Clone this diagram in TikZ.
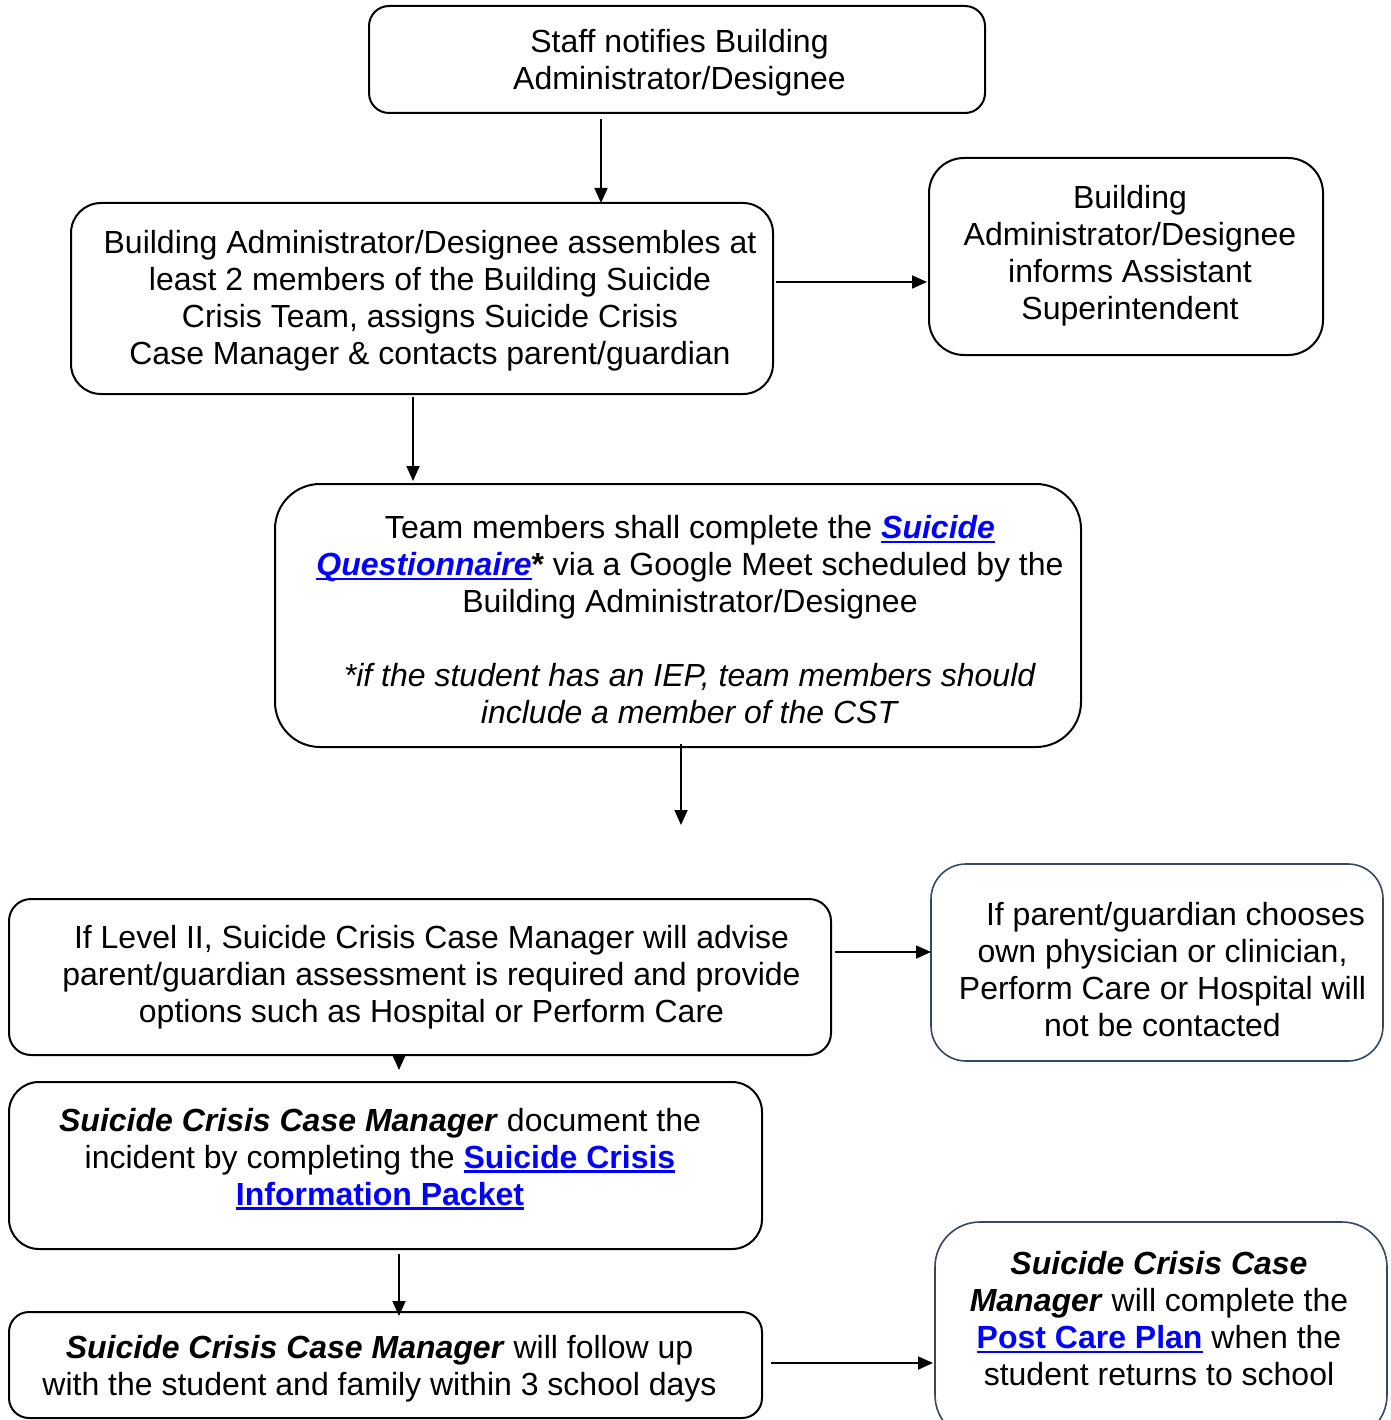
\documentclass[tikz,border=0pt]{standalone}
\usepackage{fontspec}
\setmainfont{Liberation Sans}
\usetikzlibrary{arrows.meta}
\definecolor{linkblue}{RGB}{0,0,255}
\definecolor{slateedge}{RGB}{52,72,98}
\newcommand\lnk[1]{{\color{linkblue}\setbox0=\hbox{\bfseries #1}\rlap{\rule[-5pt]{\wd0}{2.8pt}}\box0}}
\newcommand\bi[1]{\textbf{\textit{#1}}}
\tikzset{
  box/.style={draw=black, line width=2pt, inner sep=0pt, outer sep=0pt, fill=white},
  sbox/.style={draw=slateedge, line width=1.6pt, inner sep=0pt, outer sep=0pt, fill=white},
  txt/.style={align=center, inner sep=0pt, font=\fontsize{32}{37}\selectfont},
  arr/.style={line width=1.8pt, -{Triangle[length=15pt,width=13pt]}}
}
\begin{document}
\begin{tikzpicture}[x=1pt,y=-1pt]
\clip (0,0) rectangle (1390,1420);
\fill[white] (0,0) rectangle (1390,1420);
% boxes
\node[box, rounded corners=20pt, minimum width=616pt, minimum height=107pt] (staff) at (677,59.5) {};
\node[box, rounded corners=30pt, minimum width=702pt, minimum height=191pt] (assemble) at (422,298.5) {};
\node[box, rounded corners=35pt, minimum width=394pt, minimum height=197pt] (inform) at (1126,256.5) {};
\node[box, rounded corners=45pt, minimum width=806pt, minimum height=263pt] (team) at (678,615.5) {};
\node[box, rounded corners=22pt, minimum width=822pt, minimum height=156pt] (level) at (420,977) {};
\node[sbox, rounded corners=35pt, minimum width=452pt, minimum height=197pt] (parent) at (1157,962.5) {};
\node[box, rounded corners=30pt, minimum width=753pt, minimum height=167pt] (doc) at (385.5,1165.5) {};
\node[box, rounded corners=20pt, minimum width=753pt, minimum height=106pt] (follow) at (385.5,1365) {};
\node[sbox, rounded corners=45pt, minimum width=452pt, minimum height=218pt] (post) at (1161,1331) {};
% texts
\node[txt] (staffT) at (679.5,62.5) {Staff notifies Building\\Administrator/Designee};
\node[txt] (assembleT) at (430,300.5) {Building Administrator/Designee assembles at\\least 2 members of the Building Suicide\\Crisis Team, assigns Suicide Crisis\\Case Manager \& contacts parent/guardian};
\node[txt] (informT) at (1130,255.5) {Building\\Administrator/Designee\\informs Assistant\\Superintendent};
\node[txt] (teamT) at (690,619.5) {Team members shall complete the \lnk{\itshape Suicide}\\\lnk{\itshape Questionnaire}\textbf{*} via a Google Meet scheduled by the\\Building Administrator/Designee\\[37pt]\textit{*if the student has an IEP, team members should}\\\textit{include a member of the CST}};
\node[txt] (levelT) at (431.5,977) {If Level II, Suicide Crisis Case Manager will advise\\parent/guardian assessment is required and provide\\options such as Hospital or Perform Care};
\node[txt] (parentT) at (1162.5,970) {\hspace*{26pt}If parent/guardian chooses\\own physician or clinician,\\Perform Care or Hospital will\\not be contacted};
\node[txt] (docT) at (380,1159) {\bi{Suicide Crisis Case Manager} document the\\incident by completing the \lnk{Suicide Crisis}\\\lnk{Information Packet}};
\node[txt] (followT) at (379.5,1368.5) {\bi{Suicide Crisis Case Manager} will follow up\\with the student and family within 3 school days};
\node[txt] (postT) at (1159,1318.5) {\bi{Suicide Crisis Case}\\\bi{Manager} will complete the\\\lnk{Post Care Plan} when the\\student returns to school};
% helper coordinates for connector positions
\coordinate (c601) at (601,0);
\coordinate (c282) at (0,282);
\coordinate (c413) at (413,0);
\coordinate (c681) at (681,0);
\coordinate (teamend) at (681,825);
\coordinate (c952) at (0,952);
\coordinate (c399) at (399,0);
\coordinate (c1363) at (0,1363);
% connectors
\draw[arr, shorten <=6pt] (staff.south -| c601) -- (assemble.north -| c601);
\draw[arr, shorten <=3pt, shorten >=2pt] (assemble.east |- c282) -- (inform.west |- c282);
\draw[arr, shorten <=3pt, shorten >=3pt] (assemble.south -| c413) -- (team.north -| c413);
\draw[arr, shorten <=-3pt] (team.south -| c681) -- (teamend);
\draw[arr, shorten <=4pt] (level.east |- c952) -- (parent.west |- c952);
\draw[arr, shorten >=12pt] (level.south -| c399) -- (doc.north -| c399);
\draw[arr, shorten <=5pt, shorten >=-4pt] (doc.south -| c399) -- (follow.north -| c399);
\draw[arr, shorten <=9pt, shorten >=2pt] (follow.east |- c1363) -- (post.west |- c1363);
\end{tikzpicture}
\end{document}
